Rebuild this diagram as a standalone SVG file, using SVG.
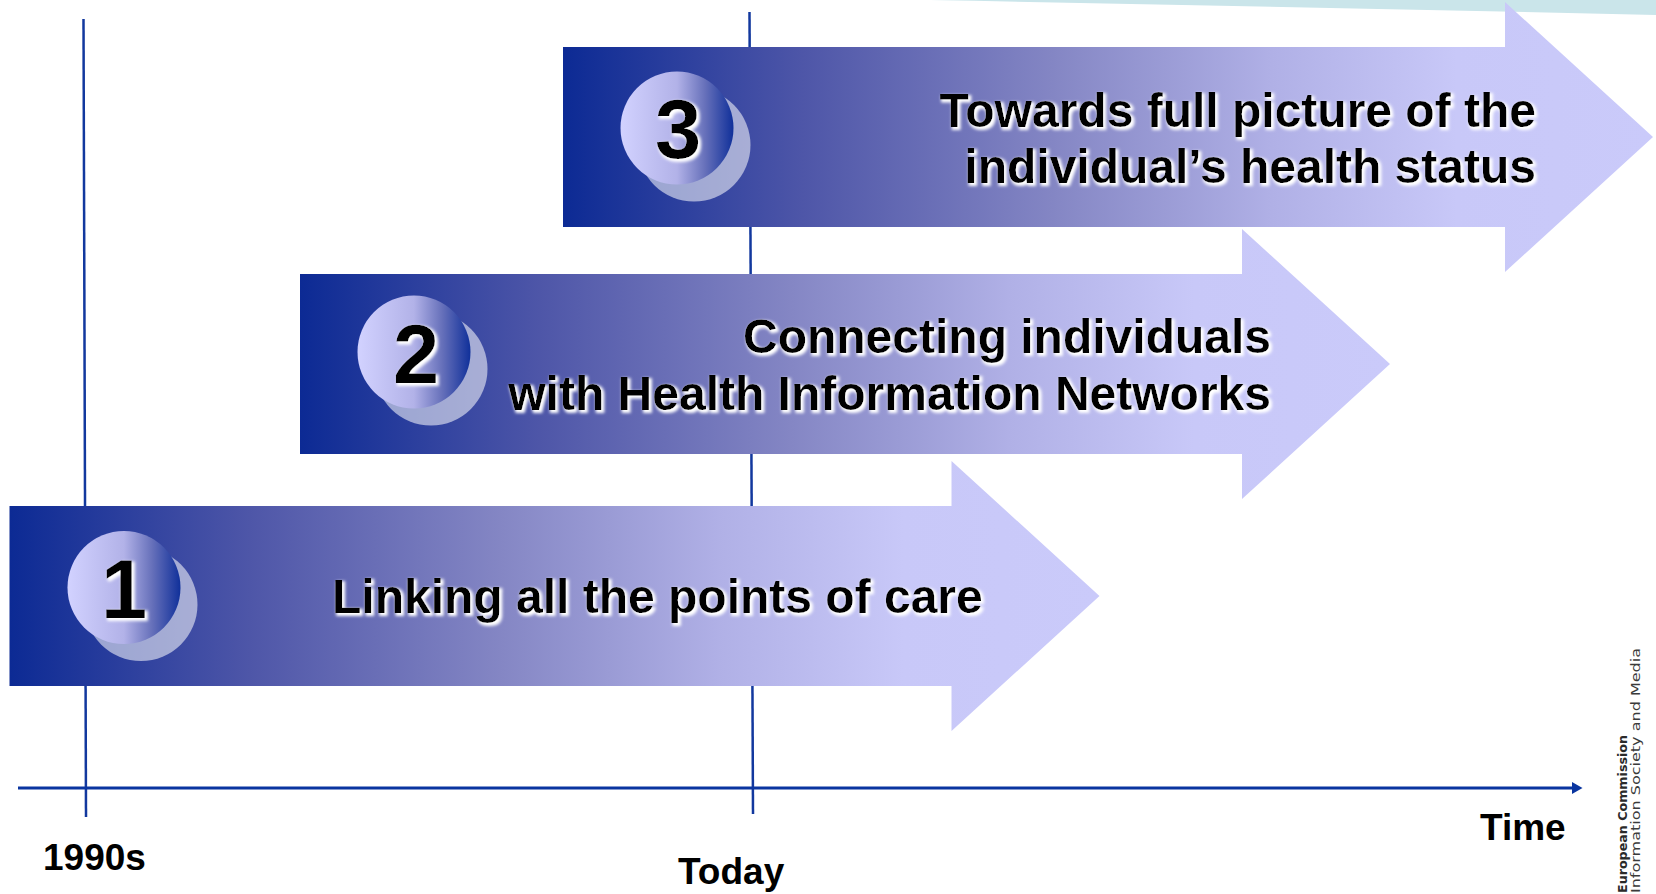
<svg xmlns="http://www.w3.org/2000/svg" width="1656" height="894" viewBox="0 0 1656 894">
  <style>
    .big { font-family: "Liberation Sans", Arial, sans-serif; font-weight: bold; font-size: 48px; fill: #000; }
    .num { font-family: "Liberation Sans", Arial, sans-serif; font-weight: bold; font-size: 83px; fill: #000; text-anchor: middle; }
    .lbl { font-family: "Liberation Sans", Arial, sans-serif; font-weight: bold; font-size: 37px; fill: #000; }
    .axis { stroke: #0a35a0; stroke-width: 3; fill: none; }
    .vline { stroke: #12389e; stroke-width: 2.5; fill: none; }
    .logo1 { font-family: "DejaVu Sans", Verdana, sans-serif; font-weight: bold; font-size: 13px; fill: #2a2a2a; }
    .logo2 { font-family: "DejaVu Sans", Verdana, sans-serif; font-size: 13px; fill: #3a3a3a; }
  </style>
  <defs>
    <linearGradient id="arrowGrad" x1="0" y1="0" x2="1" y2="0">
      <stop offset="0" stop-color="#0c2a94"/>
      <stop offset="0.22" stop-color="#4e56a8"/>
      <stop offset="0.45" stop-color="#8486c4"/>
      <stop offset="0.65" stop-color="#b0b0e6"/>
      <stop offset="0.82" stop-color="#c8c8f8"/>
      <stop offset="1" stop-color="#cacafa"/>
    </linearGradient>
    <linearGradient id="ballGrad" x1="0" y1="0" x2="1" y2="0">
      <stop offset="0" stop-color="#d2d2ff"/>
      <stop offset="0.5" stop-color="#b2b2e8"/>
      <stop offset="0.75" stop-color="#6670ba"/>
      <stop offset="1" stop-color="#10309a"/>
    </linearGradient>
    <path id="arrowShape" d="M0 0 H942 V-45 L1090 90 L942 225 V180 H0 Z"/>
    <g id="ball">
      <circle cx="17" cy="17" r="56.5" fill="#ffffff" fill-opacity="0.55"/>
      <circle cx="0" cy="0" r="56.5" fill="url(#ballGrad)"/>
    </g>
    <filter id="glow" x="-10%" y="-30%" width="120%" height="170%">
      <feMorphology in="SourceAlpha" operator="dilate" radius="1" result="d"/>
      <feGaussianBlur in="d" stdDeviation="1.6" result="b"/>
      <feOffset in="b" dx="2" dy="2" result="o"/>
      <feFlood flood-color="#ffffff"/>
      <feComposite in2="o" operator="in" result="s"/>
      <feMerge><feMergeNode in="s"/><feMergeNode in="SourceGraphic"/></feMerge>
    </filter>
    <marker id="axisHead" markerWidth="12" markerHeight="12" refX="0" refY="8" viewBox="0 0 14 16" orient="auto" markerUnits="userSpaceOnUse">
      <path d="M0 0 L14 8 L0 16 Z" fill="#0a35a0"/>
    </marker>
  </defs>

  <rect width="1656" height="894" fill="#ffffff"/>

  <!-- top decorative band -->
  <path d="M930 0 H1656 V15 Q1300 7 930 0 Z" fill="#cae5ea"/>

  <g id="connectors">
    <line class="vline" x1="83.5" y1="19" x2="86" y2="817"/>
    <line class="vline" x1="749.5" y1="12" x2="753" y2="814"/>
    <path class="axis" d="M18 788 H1572" marker-end="url(#axisHead)"/>
  </g>

  <g id="node-3">
    <use href="#arrowShape" transform="translate(563 47)" fill="url(#arrowGrad)"/>
    <use href="#ball" transform="translate(677 128)"/>
    <text class="num" x="678" y="158" filter="url(#glow)">3</text>
    <text class="big" text-anchor="end" filter="url(#glow)"><tspan x="1536" y="127">Towards full picture of the</tspan><tspan x="1536" y="183">individual’s health status</tspan></text>
  </g>

  <g id="node-2">
    <use href="#arrowShape" transform="translate(300 274)" fill="url(#arrowGrad)"/>
    <use href="#ball" transform="translate(414 352)"/>
    <text class="num" x="416" y="383" filter="url(#glow)">2</text>
    <text class="big" text-anchor="end" filter="url(#glow)"><tspan x="1271" y="353">Connecting individuals</tspan><tspan x="1271" y="410">with Health Information Networks</tspan></text>
  </g>

  <g id="node-1">
    <use href="#arrowShape" transform="translate(9.5 506)" fill="url(#arrowGrad)"/>
    <use href="#ball" transform="translate(124 587.5)"/>
    <text class="num" x="124" y="618" filter="url(#glow)">1</text>
    <text class="big" x="332" y="613" filter="url(#glow)">Linking all the points of care</text>
  </g>

  <g id="labels">
    <text class="lbl" x="43" y="870">1990s</text>
    <text class="lbl" x="678" y="884">Today</text>
    <text class="lbl" x="1480" y="840">Time</text>
  </g>

  <g id="logo">
    <text class="logo1" transform="translate(1627 893) rotate(-90)" textLength="158" lengthAdjust="spacingAndGlyphs">European Commission</text>
    <text class="logo2" transform="translate(1640 893) rotate(-90)" textLength="245" lengthAdjust="spacingAndGlyphs">Information Society and Media</text>
  </g>
</svg>
